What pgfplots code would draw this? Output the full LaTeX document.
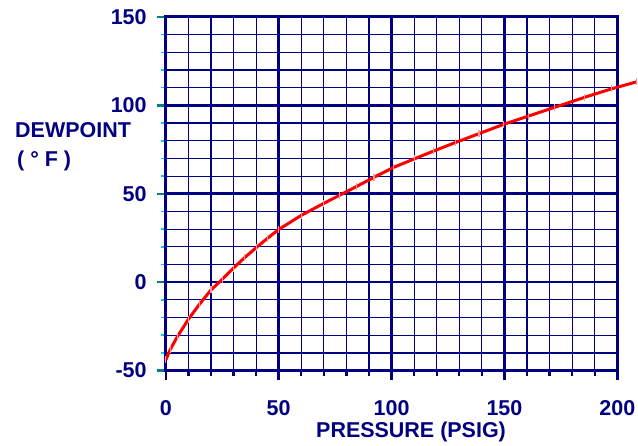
\documentclass[border=0pt]{standalone}
\usepackage{pgfplots}
\pgfplotsset{compat=1.18}
\usepackage{fontspec}
\setmainfont{Liberation Sans}
\definecolor{navy}{RGB}{0,0,128}
\definecolor{tickteal}{RGB}{0,128,128}
\definecolor{tickcyan}{RGB}{0,215,225}
\newcommand{\lblfont}{\fontsize{21.5}{24}\selectfont\bfseries}

\begin{document}
\begin{tikzpicture}
\begin{axis}[
    at={(0pt,0pt)}, anchor=south west,
    scale only axis, width=452pt, height=354pt,
    xmin=0, xmax=200, ymin=-50, ymax=150,
    xtick={0,50,100,150,200}, ytick={-50,0,50,100,150},
    xticklabels={0,50,100,150,200},
    yticklabels={-50,0,50,100,150},
    minor x tick num=4, minor y tick num=4,
    grid=both,
    major grid style={navy, line width=2.6pt},
    minor grid style={navy, line width=1.2pt},
    axis line style={navy, line width=3pt},
    tick align=outside, tick pos=left,
    major tick length=9pt, minor tick length=5pt,
    every tick/.append style={line width=2.4pt},
    every x tick/.append style={navy},
    every y tick/.append style={tickteal},
    every minor y tick/.append style={tickcyan, line width=1.6pt},
    ticklabel style={font=\lblfont, text=navy, inner sep=0pt},
    xticklabel style={anchor=north, yshift=-21pt},
    yticklabel style={anchor=east, xshift=-10pt},
    clip=false,
]
\addplot[red, line width=3pt, mark=|, mark size=3.5pt,
         mark options={red!40!white, line width=1.2pt}]
  coordinates {
  (0,-44) (2,-38) (5,-31) (10,-21) (15,-12.3) (20,-4.4) (25,1.6)
  (30,8) (35,14) (40,19.5) (45,24.8) (50,29.8) (60,37.8) (70,44.6)
  (77,49.2) (84.6,54.2) (92.2,59.3) (101,65) (110,69.7) (118.7,74.2)
  (128.3,79) (138.7,84) (149.7,89.3) (160.5,93.9) (172,98.8)
  (185.6,104.6) (197.3,109.3) (208.5,113.3)
  };
\end{axis}
\node[anchor=west, inner sep=0pt, text=navy, font=\lblfont] at (-151pt,240.5pt) {DEWPOINT};
\node[anchor=west, inner sep=0pt, text=navy, font=\lblfont] at (-149pt,210pt) {( ° F )};
\node[inner sep=0pt, text=navy, font=\lblfont] at (245.5pt,-61pt) {PRESSURE (PSIG)};
\path (-166pt,-75pt) rectangle (472pt,371pt);
\end{tikzpicture}
\end{document}
